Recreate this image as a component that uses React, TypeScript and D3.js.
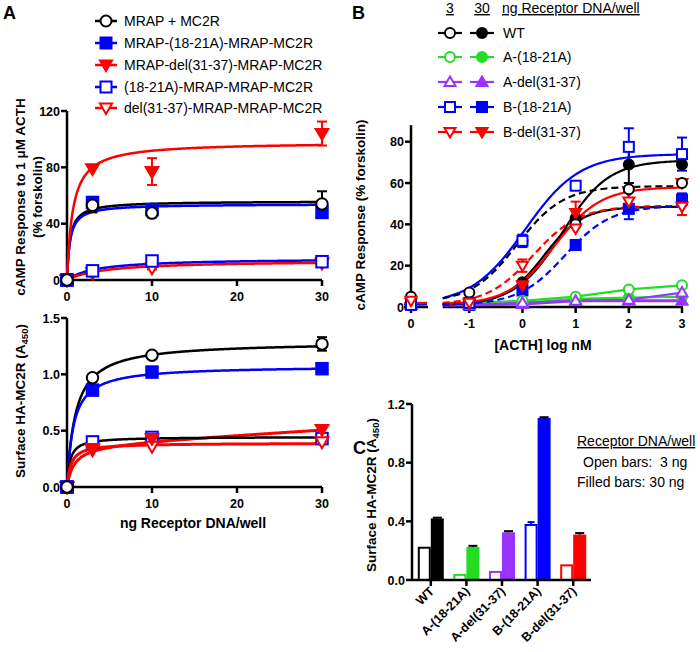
import React from 'react';
import * as d3 from 'd3';

const FONT = '"Liberation Sans", Arial, Helvetica, sans-serif';

// ---------------- Panel A data ----------------
const aDoses = [0, 3, 10, 30];
const aXTicks = [0, 10, 20, 30];
const aTopYTicks = [0, 40, 80, 120];
const aTopYTickLabels = ['0', '40', '80', '120'];
const aBotYTicks = [0, 0.5, 1.0, 1.5];
const aBotYTickLabels = ['0.0', '0.5', '1.0', '1.5'];

const aSeriesNames = [
  'MRAP + MC2R',
  'MRAP-(18-21A)-MRAP-MC2R',
  'MRAP-del(31-37)-MRAP-MC2R',
  '(18-21A)-MRAP-MRAP-MC2R',
  'del(31-37)-MRAP-MRAP-MC2R',
];
const aSeriesColors = ['#000000', '#0000ff', '#ff0000', '#0000ff', '#ff0000'];
const aSeriesShapes = ['circle', 'square', 'triDown', 'square', 'triDown'];
const aSeriesFilled = [false, true, true, false, false];

// cAMP response (% forskolin)
const aTopMrapMc2r = [0, 53, 47.5, 54];
const aTopMrap1821 = [0, 55, 50, 48];
const aTopMrapDel = [0, 79, 77, 104];
const aTop1821Mrap = [0, 6.5, 13.5, 13];
const aTopDelMrap = [0, 5, 8.5, 12];
const aTopMrapMc2rErr = [0, 5, 3, 9];
const aTopMrap1821Err = [0, 4, 2, 4];
const aTopMrapDelErr = [0, 0, 9.5, 8.5];
const aTop1821MrapErr = [0, 1, 1, 1.5];
const aTopDelMrapErr = [0, 1, 1, 1.5];
const aTopFitBmax = [56, 54, 98, 15.5, 14];
const aTopFitKd = [0.35, 0.35, 0.68, 3.5, 4.5];
const aTopFitColors = ['#000000', '#0000ff', '#ff0000', '#0000ff', '#ff0000'];

// Surface HA-MC2R (A450)
const aBotMrapMc2r = [0, 0.97, 1.17, 1.27];
const aBotMrap1821 = [0, 0.86, 1.02, 1.05];
const aBotMrapDel = [0, 0.34, 0.43, 0.51];
const aBot1821Mrap = [0, 0.40, 0.44, 0.43];
const aBotDelMrap = [0, 0.33, 0.36, 0.40];
const aBotMrapMc2rErr = [0, 0.01, 0.01, 0.06];
const aBotMrap1821Err = [0, 0.01, 0.01, 0.01];
const aBotMrapDelErr = [0, 0.01, 0.01, 0.01];
const aBot1821MrapErr = [0, 0.01, 0.01, 0.01];
const aBotDelMrapErr = [0, 0.01, 0.01, 0.01];
const aBotFitBmax = [1.29, 1.076, 0.38, 0.445, 0.39];
const aBotFitKd = [1.0, 0.755, 0.8, 0.34, 0.45];
const aBotFitNs = [0, 0, 0.0045, 0, 0];
const aBotFitColors = ['#000000', '#0000ff', '#ff0000', '#000000', '#ff0000'];

// ---------------- Panel B data ----------------
const bLogDoses = [-1, 0, 1, 2, 3];
const bXTicks = [-1, 0, 1, 2, 3];
const bYTicks = [0, 20, 40, 60, 80];
const bNames = ['WT', 'A-(18-21A)', 'A-del(31-37)', 'B-(18-21A)', 'B-del(31-37)'];
const bColors = ['#000000', '#22dd22', '#9933ff', '#0000ff', '#ff0000'];
const bOpenShapes = ['circle', 'circle', 'triUp', 'square', 'triDown'];

const bWT3 = [7, 32, 40, 57, 60];
const bWT30 = [2, 12, 43, 69, 69];
const bA1821_3 = [2, 3, 5, 8.5, 10.5];
const bA1821_30 = [1, 2, 4, 4.5, 5];
const bAdel3 = [1, 2, 3, 3.5, 7];
const bAdel30 = [1, 1.5, 3, 3, 3];
const bB1821_3 = [2, 32, 58.7, 77.5, 74];
const bB1821_30 = [1, 8, 30, 47.5, 52];
const bBdel3 = [2, 20, 38, 51, 48.5];
const bBdel30 = [1.5, 10.5, 45.5, 56, 60];

const bWT3Err = [0, 0, 0, 0, 0];
const bWT30Err = [0, 0, 0, 9, 0];
const bB1821_3Err = [0, 3, 2, 9, 8];
const bB1821_30Err = [0, 0, 0, 5, 3];
const bBdel3Err = [0, 3, 0, 0, 4];
const bBdel30Err = [0, 0, 5.5, 0, 0];

const bCtrl3 = [5, 2, 1, 1, 3];
const bCtrl30 = [1, 1, 1, 1.5, 2];

// Fitted curves in panel B
const bFitTop = [74, 71, 58.5, 48.5, 58, 49, 49];
const bFitBottom = [1, 1, 2, 1, 1, 1, 1];
const bFitLogEC50 = [0.05, 0.75, -0.1, 0.4, 0.6, 0.2, 0.8];
const bFitHill = [0.85, 1, 1, 1.2, 1, 1, 1];
const bFitColors = ['#0000ff', '#000000', '#000000', '#000000', '#ff0000', '#ff0000', '#0000ff'];
const bFitDashed = [false, false, true, false, false, true, true];

// ---------------- Panel C data ----------------
const cCats = ['WT', 'A-(18-21A)', 'A-del(31-37)', 'B-(18-21A)', 'B-del(31-37)'];
const cColors = ['#000000', '#22dd22', '#9933ff', '#0000ff', '#ff0000'];
const cOpen = [0.22, 0.035, 0.055, 0.375, 0.10];
const cOpenErr = [0, 0, 0, 0.02, 0];
const cFilled = [0.42, 0.225, 0.325, 1.105, 0.31];
const cFilledErr = [0.005, 0.008, 0.008, 0.005, 0.01];
const cYTicks = [0, 0.4, 0.8, 1.2];
const cYTickLabels = ['0.0', '0.4', '0.8', '1.2'];

// ---------------- helpers ----------------
function Marker({ shape, filled, color, cx, cy, size, sw = 2 }: any) {
  const fill = filled ? color : '#ffffff';
  const h = size / 2;
  if (shape === 'circle')
    return <circle cx={cx} cy={cy} r={h} fill={fill} stroke={color} strokeWidth={sw} />;
  if (shape === 'square')
    return <rect x={cx - h} y={cy - h} width={size} height={size} fill={fill} stroke={color} strokeWidth={sw} />;
  if (shape === 'triDown')
    return (
      <polygon
        points={`${cx - h * 1.1},${cy - h * 0.8} ${cx + h * 1.1},${cy - h * 0.8} ${cx},${cy + h * 1.1}`}
        fill={fill}
        stroke={color}
        strokeWidth={sw}
      />
    );
  return (
    <polygon
      points={`${cx - h * 1.1},${cy + h * 0.8} ${cx + h * 1.1},${cy + h * 0.8} ${cx},${cy - h * 1.1}`}
      fill={fill}
      stroke={color}
      strokeWidth={sw}
    />
  );
}

function ErrBar({ x, y1, y2, color, cap = 5, sw = 2 }: any) {
  return (
    <g stroke={color} strokeWidth={sw}>
      <line x1={x} x2={x} y1={y1} y2={y2} />
      <line x1={x - cap} x2={x + cap} y1={y1} y2={y1} />
      <line x1={x - cap} x2={x + cap} y1={y2} y2={y2} />
    </g>
  );
}

function YAxis({ scale, x, ticks, labels, top }: any) {
  return (
    <g>
      <line x1={x} x2={x} y1={scale(ticks[0])} y2={scale(top)} stroke="#000" strokeWidth={2.5} />
      {ticks.map((t: number, i: number) => (
        <g key={i}>
          <line x1={x - 6} x2={x} y1={scale(t)} y2={scale(t)} stroke="#000" strokeWidth={2.5} />
          <text x={x - 7} y={scale(t) + 4.5} textAnchor="end" fontSize={12.5} fontWeight="bold" fontFamily={FONT}>
            {labels[i]}
          </text>
        </g>
      ))}
    </g>
  );
}

function XAxis({ scale, y, ticks, labels, x1, x2 }: any) {
  return (
    <g>
      <line x1={x1} x2={x2} y1={y} y2={y} stroke="#000" strokeWidth={2.5} />
      {ticks.map((t: number, i: number) => (
        <g key={i}>
          <line x1={scale(t)} x2={scale(t)} y1={y} y2={y + 6} stroke="#000" strokeWidth={2.5} />
          <text x={scale(t)} y={y + 21} textAnchor="middle" fontSize={12.5} fontWeight="bold" fontFamily={FONT}>
            {labels[i]}
          </text>
        </g>
      ))}
    </g>
  );
}

export default function App() {
  // ----- Panel A scales -----
  const ax = d3.scaleLinear().domain([0, 30]).range([67, 322]);
  const ayTop = d3.scaleLinear().domain([0, 120]).range([280, 111]);
  const ayBot = d3.scaleLinear().domain([0, 1.5]).range([487, 318]);

  const aTopVals = [aTopMrapMc2r, aTopMrap1821, aTopMrapDel, aTop1821Mrap, aTopDelMrap];
  const aTopErrs = [aTopMrapMc2rErr, aTopMrap1821Err, aTopMrapDelErr, aTop1821MrapErr, aTopDelMrapErr];
  const aBotVals = [aBotMrapMc2r, aBotMrap1821, aBotMrapDel, aBot1821Mrap, aBotDelMrap];
  const aBotErrs = [aBotMrapMc2rErr, aBotMrap1821Err, aBotMrapDelErr, aBot1821MrapErr, aBotDelMrapErr];

  const fitXs = d3.range(0, 30.0001, 0.1);
  const hyper = (b: number, k: number, ns: number) => (x: number) => (b * x) / (k + x) + ns * x;

  const lineTop = d3
    .line<[number, number]>()
    .x((d) => ax(d[0]))
    .y((d) => ayTop(d[1]));
  const lineBot = d3
    .line<[number, number]>()
    .x((d) => ax(d[0]))
    .y((d) => ayBot(d[1]));

  // ----- Panel B scales -----
  const bx = d3.scaleLinear().domain([-1, 3]).range([469.3, 682]);
  const bCtrlX = 411;
  const by = d3.scaleLinear().domain([0, 80]).range([307, 141.7]);
  const bSeries3 = [bWT3, bA1821_3, bAdel3, bB1821_3, bBdel3];
  const bSeries30 = [bWT30, bA1821_30, bAdel30, bB1821_30, bBdel30];
  const bErr3 = [bWT3Err, null, null, bB1821_3Err, bBdel3Err];
  const bErr30 = [bWT30Err, null, null, bB1821_30Err, bBdel30Err];
  const hillXs = d3.range(-1.5, 3.0001, 0.04);
  const hill = (bot: number, top: number, ec: number, h: number) => (x: number) =>
    bot + (top - bot) / (1 + Math.pow(10, (ec - x) * h));
  const lineB = d3
    .line<[number, number]>()
    .x((d) => bx(d[0]))
    .y((d) => by(d[1]));

  // ----- Panel C scales -----
  const cx = d3.scaleBand<string>().domain(cCats).range([413, 591]).padding(0);
  const cy = d3.scaleLinear().domain([0, 1.2]).range([580, 404]);

  return (
    <div style={{ position: 'absolute', left: 0, top: 0 }}>
      <svg width={700} height={652} style={{ display: 'block', background: '#fff' }} fontFamily={FONT}>
        {/* ================= PANEL A ================= */}
        <text x={3} y={19} fontSize={18} fontWeight="bold">A</text>

        {aSeriesNames.map((n, i) => {
          const ly = [21, 43, 65, 87, 108][i];
          return (
            <g key={n}>
              <line x1={95} x2={117} y1={ly} y2={ly} stroke={aSeriesColors[i]} strokeWidth={2.5} />
              <Marker shape={aSeriesShapes[i]} filled={aSeriesFilled[i]} color={aSeriesColors[i]} cx={106} cy={ly} size={11} />
              <text x={124} y={ly + 5} fontSize={14}>{n}</text>
            </g>
          );
        })}

        <YAxis scale={ayTop} x={67} ticks={aTopYTicks} labels={aTopYTickLabels} top={120} />
        <XAxis scale={ax} y={280} ticks={aXTicks} labels={aXTicks.map(String)} x1={67} x2={322} />
        <text transform="translate(25,197) rotate(-90)" textAnchor="middle" fontSize={13.5} fontWeight="bold">
          cAMP Response to 1 μM ACTH
        </text>
        <text transform="translate(42,197) rotate(-90)" textAnchor="middle" fontSize={13.5} fontWeight="bold">
          (% forskolin)
        </text>

        {aTopFitBmax.map((b, i) => (
          <path
            key={'tf' + i}
            d={lineTop(fitXs.map((x) => [x, hyper(b, aTopFitKd[i], 0)(x)]) as [number, number][]) || ''}
            fill="none"
            stroke={aTopFitColors[i]}
            strokeWidth={2.5}
          />
        ))}
        {aTopVals.map((vals, i) =>
          vals.map((v, j) =>
            aTopErrs[i][j] > 0 ? (
              <ErrBar key={'te' + i + j} x={ax(aDoses[j])} y1={ayTop(v - aTopErrs[i][j])} y2={ayTop(v + aTopErrs[i][j])} color={aSeriesColors[i]} />
            ) : null
          )
        )}
        {[2, 1, 4, 3, 0].map((i) =>
          aTopVals[i].map((v, j) => (
            <Marker key={'tm' + i + j} shape={aSeriesShapes[i]} filled={aSeriesFilled[i]} color={aSeriesColors[i]} cx={ax(aDoses[j])} cy={ayTop(v)} size={11.5} />
          ))
        )}

        <YAxis scale={ayBot} x={67} ticks={aBotYTicks} labels={aBotYTickLabels} top={1.5} />
        <XAxis scale={ax} y={487} ticks={aXTicks} labels={aXTicks.map(String)} x1={67} x2={322} />
        <text transform="translate(25,401) rotate(-90)" textAnchor="middle" fontSize={13.5} fontWeight="bold">
          Surface HA-MC2R (A<tspan fontSize={9.5} dy={3}>450</tspan><tspan dy={-3}>)</tspan>
        </text>
        <text x={193} y={528} textAnchor="middle" fontSize={14} fontWeight="bold">
          ng Receptor DNA/well
        </text>

        {aBotFitBmax.map((b, i) => (
          <path
            key={'bf' + i}
            d={lineBot(fitXs.map((x) => [x, hyper(b, aBotFitKd[i], aBotFitNs[i])(x)]) as [number, number][]) || ''}
            fill="none"
            stroke={aBotFitColors[i]}
            strokeWidth={i === 2 || i === 4 ? 3 : 2.5}
          />
        ))}
        {aBotVals.map((vals, i) =>
          vals.map((v, j) =>
            aBotErrs[i][j] > 0.02 ? (
              <ErrBar key={'be' + i + j} x={ax(aDoses[j])} y1={ayBot(v - aBotErrs[i][j])} y2={ayBot(v + aBotErrs[i][j])} color={aSeriesColors[i]} />
            ) : null
          )
        )}
        {[3, 4, 2, 1, 0].map((i) =>
          aBotVals[i].map((v, j) => (
            <Marker key={'bm' + i + j} shape={aSeriesShapes[i]} filled={aSeriesFilled[i]} color={aSeriesColors[i]} cx={ax(aDoses[j])} cy={ayBot(v)} size={11.5} />
          ))
        )}

        {/* ================= PANEL B ================= */}
        <text x={352} y={19} fontSize={18} fontWeight="bold">B</text>
        <text x={450} y={13} textAnchor="middle" fontSize={14} style={{ textDecoration: 'underline' }}>3</text>
        <text x={482} y={13} textAnchor="middle" fontSize={14} style={{ textDecoration: 'underline' }}>30</text>
        <text x={502} y={13} fontSize={14} style={{ textDecoration: 'underline' }}>ng Receptor DNA/well</text>
        {bNames.map((n, i) => {
          const ly = [33, 57, 82, 107, 132][i];
          return (
            <g key={n}>
              <line x1={438} x2={462} y1={ly} y2={ly} stroke={bColors[i]} strokeWidth={2.2} />
              <Marker shape={bOpenShapes[i]} filled={false} color={bColors[i]} cx={450} cy={ly} size={10} />
              <line x1={470} x2={494} y1={ly} y2={ly} stroke={bColors[i]} strokeWidth={2.2} />
              <Marker shape={bOpenShapes[i]} filled={true} color={bColors[i]} cx={482} cy={ly} size={10} />
              <text x={503} y={ly + 5} fontSize={14}>{n}</text>
            </g>
          );
        })}

        <YAxis scale={by} x={bCtrlX} ticks={bYTicks} labels={bYTicks.map(String)} top={88} />
        <line x1={404} x2={428} y1={307} y2={307} stroke="#000" strokeWidth={2.5} />
        <line x1={bCtrlX} x2={bCtrlX} y1={307} y2={313} stroke="#000" strokeWidth={2.5} />
        <text x={bCtrlX} y={328} textAnchor="middle" fontSize={12.5} fontWeight="bold">0</text>
        <XAxis scale={bx} y={307} ticks={bXTicks} labels={bXTicks.map(String)} x1={bx(-1.5)} x2={683} />
        <text transform="translate(365,215) rotate(-90)" textAnchor="middle" fontSize={13.5} fontWeight="bold">
          cAMP Response (% forskolin)
        </text>
        <text x={543} y={350} textAnchor="middle" fontSize={14} fontWeight="bold">[ACTH] log nM</text>

        {bCtrl30.map((v, i) => (
          <line key={'cs' + i} x1={404} x2={427} y1={by(v)} y2={by(v)} stroke={bColors[i]} strokeWidth={2.2} />
        ))}

        {[1, 2].map((i) => (
          <g key={'cl' + i}>
            <path
              d={lineB([[-1.5, bSeries3[i][0]] as [number, number], ...bLogDoses.map((x, j) => [x, bSeries3[i][j]] as [number, number])]) || ''}
              fill="none"
              stroke={bColors[i]}
              strokeWidth={2.2}
            />
            <path
              d={lineB([[-1.5, bSeries30[i][0]] as [number, number], ...bLogDoses.map((x, j) => [x, bSeries30[i][j]] as [number, number])]) || ''}
              fill="none"
              stroke={bColors[i]}
              strokeWidth={i === 2 ? 3 : 2.2}
            />
          </g>
        ))}

        {bFitTop.map((t, i) => (
          <path
            key={'bfc' + i}
            d={lineB(hillXs.map((x) => [x, hill(bFitBottom[i], t, bFitLogEC50[i], bFitHill[i])(x)]) as [number, number][]) || ''}
            fill="none"
            stroke={bFitColors[i]}
            strokeWidth={2.2}
            strokeDasharray={bFitDashed[i] ? '7,4' : undefined}
          />
        ))}

        {[0, 3, 4].map((i) => (
          <g key={'beb' + i}>
            {bLogDoses.map((x, j) => {
              const e3 = (bErr3[i] as number[])[j];
              const e30 = (bErr30[i] as number[])[j];
              return (
                <g key={j}>
                  {e30 > 0 ? <ErrBar x={bx(x)} y1={by(bSeries30[i][j] - e30)} y2={by(bSeries30[i][j] + e30)} color={bColors[i]} cap={5} /> : null}
                  {e3 > 0 ? <ErrBar x={bx(x)} y1={by(bSeries3[i][j] - e3)} y2={by(bSeries3[i][j] + e3)} color={bColors[i]} cap={5} /> : null}
                </g>
              );
            })}
          </g>
        ))}

        {[1, 2, 3, 0, 4].map((i) => (
          <g key={'bmk' + i}>
            <Marker shape={bOpenShapes[i]} filled={true} color={bColors[i]} cx={bCtrlX} cy={by(bCtrl30[i])} size={10} />
            {bLogDoses.map((x, j) => (
              <Marker key={'f' + j} shape={bOpenShapes[i]} filled={true} color={bColors[i]} cx={bx(x)} cy={by(bSeries30[i][j])} size={10} />
            ))}
          </g>
        ))}
        {[1, 2, 0, 3, 4].map((i) => (
          <g key={'bmo' + i}>
            <Marker shape={bOpenShapes[i]} filled={false} color={bColors[i]} cx={bCtrlX} cy={by(bCtrl3[i])} size={10} />
            {bLogDoses.map((x, j) => (
              <Marker key={'o' + j} shape={bOpenShapes[i]} filled={false} color={bColors[i]} cx={bx(x)} cy={by(bSeries3[i][j])} size={10} />
            ))}
          </g>
        ))}

        {/* ================= PANEL C ================= */}
        <text x={353} y={454} fontSize={18} fontWeight="bold">C</text>
        <YAxis scale={cy} x={412} ticks={cYTicks} labels={cYTickLabels} top={1.2} />
        <text transform="translate(376,495) rotate(-90)" textAnchor="middle" fontSize={13.5} fontWeight="bold">
          Surface HA-MC2R (A<tspan fontSize={9.5} dy={3}>450</tspan><tspan dy={-3}>)</tspan>
        </text>
        {cCats.map((c, i) => {
          const center = (cx(c) as number) + cx.bandwidth() / 2;
          return (
            <g key={c}>
              <rect x={center - 12} y={cy(cOpen[i])} width={11} height={cy(0) - cy(cOpen[i])} fill="#fff" stroke={cColors[i]} strokeWidth={2} />
              {cOpenErr[i] > 0 ? (
                <g stroke={cColors[i]} strokeWidth={2}>
                  <line x1={center - 6.5} x2={center - 6.5} y1={cy(cOpen[i])} y2={cy(cOpen[i] + cOpenErr[i])} />
                  <line x1={center - 10} x2={center - 3} y1={cy(cOpen[i] + cOpenErr[i])} y2={cy(cOpen[i] + cOpenErr[i])} />
                </g>
              ) : null}
              <rect x={center} y={cy(cFilled[i])} width={13} height={cy(0) - cy(cFilled[i])} fill={cColors[i]} />
              <g stroke="#000" strokeWidth={2}>
                <line x1={center + 6.5} x2={center + 6.5} y1={cy(cFilled[i])} y2={cy(cFilled[i] + cFilledErr[i])} />
                <line x1={center + 2} x2={center + 11} y1={cy(cFilled[i] + cFilledErr[i])} y2={cy(cFilled[i] + cFilledErr[i])} />
              </g>
              <line x1={center} x2={center} y1={580} y2={586} stroke="#000" strokeWidth={2.5} />
              <text transform={`translate(${center + 4},592) rotate(-45)`} textAnchor="end" fontSize={12.5} fontWeight="bold">
                {c}
              </text>
            </g>
          );
        })}
        <line x1={412} x2={591} y1={580} y2={580} stroke="#000" strokeWidth={2.5} />

        <text x={577} y={446} fontSize={14} style={{ textDecoration: 'underline' }}>Receptor DNA/well</text>
        <text x={583} y={467} fontSize={14} style={{ whiteSpace: 'pre' }}>{'Open bars:  3 ng'}</text>
        <text x={577} y={487} fontSize={14} style={{ whiteSpace: 'pre' }}>{'Filled bars: 30 ng'}</text>
      </svg>
    </div>
  );
}
